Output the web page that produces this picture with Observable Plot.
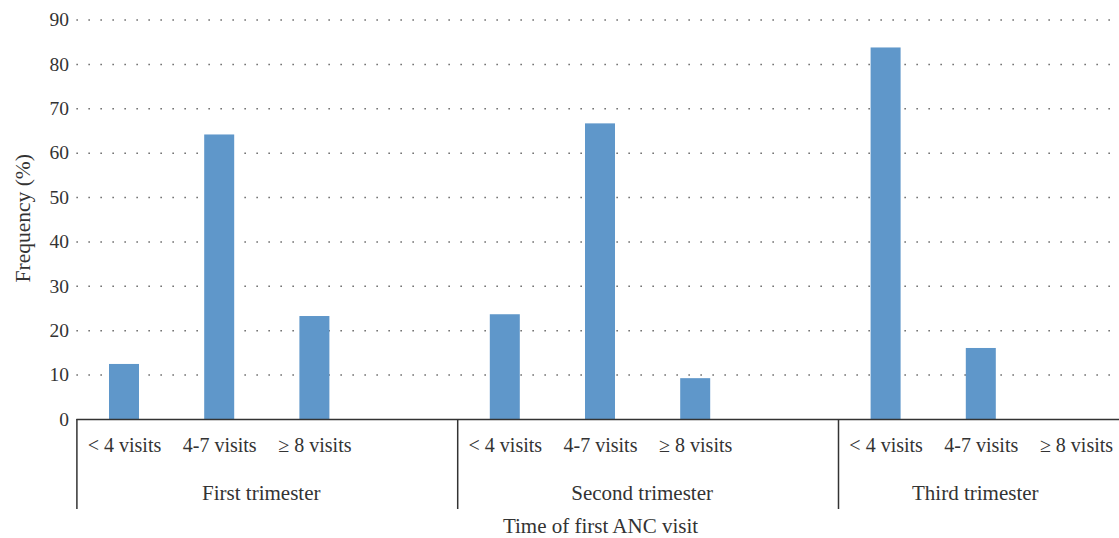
<!DOCTYPE html>
<html><head><meta charset="utf-8">
<script src="https://cdn.jsdelivr.net/npm/d3@7"></script>
<script src="https://cdn.jsdelivr.net/npm/@observablehq/plot@0.6"></script>
<style>body{margin:0;background:#fff;}</style>
</head><body><div id="chart"></div>
<script>
const trimesters = ["First trimester", "Second trimester", "Third trimester"];
const visitGroups = ["< 4 visits", "4-7 visits", "≥ 8 visits"];
const firstTrimester = [12.4, 64.1, 23.2];
const secondTrimester = [23.6, 66.6, 9.2];
const thirdTrimester = [83.7, 16.0, 0];
const yTicks = [0, 10, 20, 30, 40, 50, 60, 70, 80, 90];
const xTitle = "Time of first ANC visit";
const yTitle = "Frequency (%)";

const slotsPerGroup = 4; // three categories + one blank slot (Excel-style)
const totalSlots = 11;
const series = [firstTrimester, secondTrimester, thirdTrimester];
const rows = trimesters.flatMap((t, g) => visitGroups.map((v, k) => ({
  trimester: t, visits: v, value: series[g][k], slot: g * slotsPerGroup + k
})));
const groups = trimesters.map((t, g) => ({
  label: t, start: g * slotsPerGroup, end: Math.min(g * slotsPerGroup + slotsPerGroup, totalSlots)
}));

const font = "Liberation Serif";
const ink = "#333";

const chart = Plot.plot({
  width: 1119, height: 538,
  marginTop: 19.5, marginBottom: 119, marginLeft: 76.4, marginRight: -4.6,
  style: {fontFamily: font, background: "#fff"},
  x: {domain: [0, totalSlots], axis: null},
  y: {domain: [0, 90], axis: null},
  marks: [
    Plot.ruleY(yTicks.filter(d => d > 0), {y: d => d, stroke: "#666", strokeWidth: 1.5, strokeDasharray: "1.5,10.5"}),
    Plot.rectY(rows, {x1: d => d.slot, x2: d => d.slot + 1, y1: 0, y2: "value", fill: "#5f97ca", insetLeft: 32.6, insetRight: 32.6}),
    Plot.ruleY([0], {stroke: "#333", strokeWidth: 1.5}),
    Plot.ruleX(groups, {x: "start", y1: 0, y2: 0, insetBottom: -90, stroke: "#333", strokeWidth: 1.5}),
    Plot.text(yTicks, {y: d => d, frameAnchor: "left", dx: -8, textAnchor: "end", fill: ink, fontSize: 19.5, fontFamily: font}),
    Plot.text(rows, {x: d => d.slot + 0.5, y: 0, dy: 26, text: "visits", fill: ink, fontSize: 20, fontFamily: font}),
    Plot.text(groups, {x: d => (d.start + d.end) / 2, y: 0, dy: 74, dx: -6, text: "label", fill: ink, fontSize: 21, fontFamily: font}),
    Plot.text([xTitle], {frameAnchor: "bottom", dy: 106.5, lineAnchor: "middle", fill: ink, fontSize: 21, fontFamily: font}),
    Plot.text([yTitle], {frameAnchor: "left", dx: -53.5, dy: -1.5, rotate: -90, textAnchor: "middle", lineAnchor: "middle", fill: ink, fontSize: 21.5, fontFamily: font})
  ]
});
document.getElementById("chart").appendChild(chart);
</script>
</body></html>
